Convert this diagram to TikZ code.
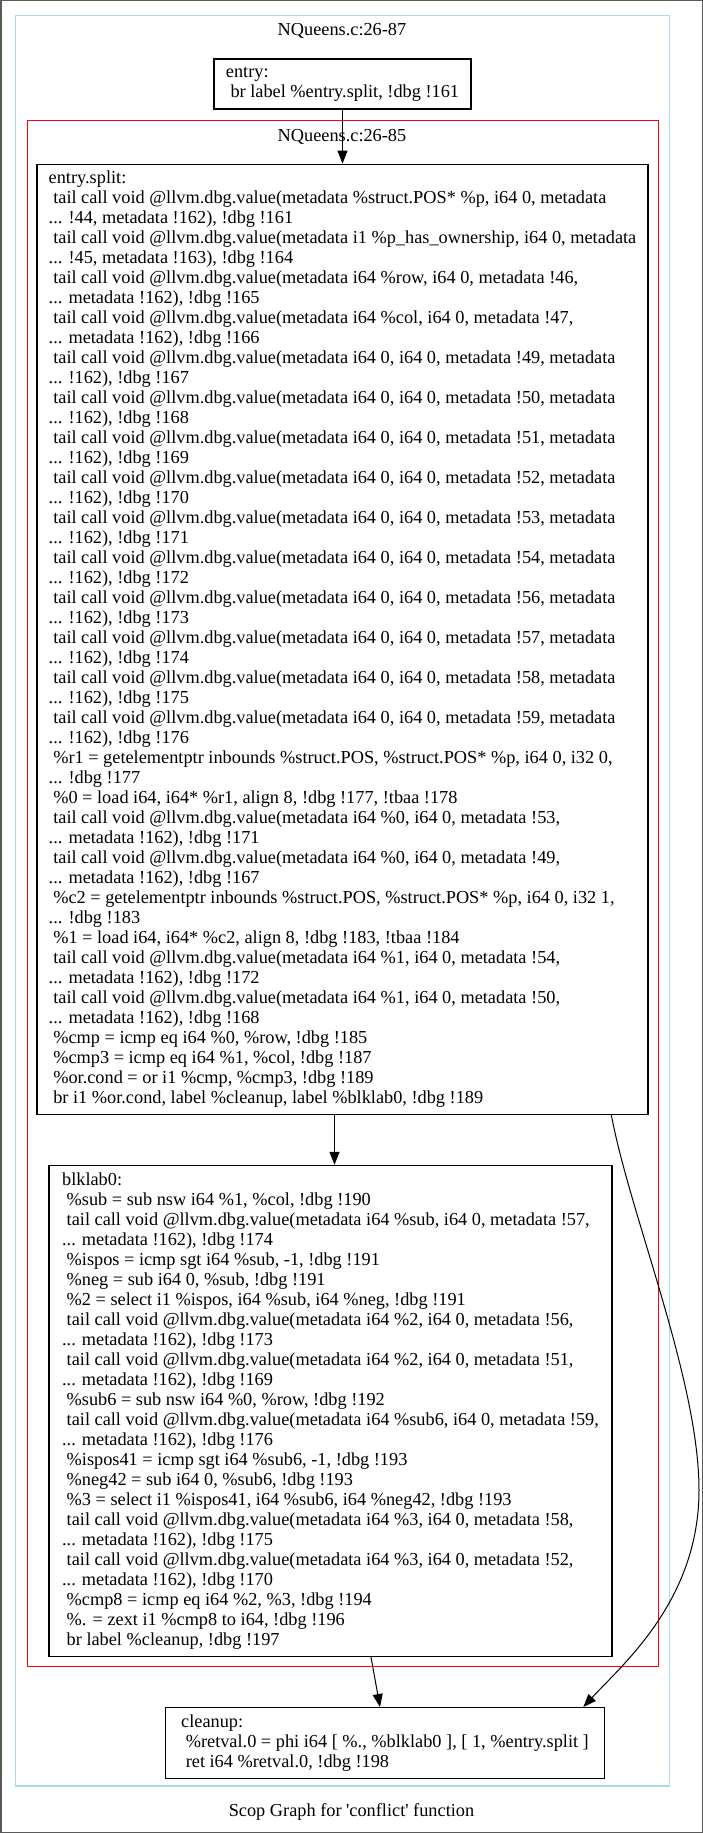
\documentclass[tikz,border=0pt]{standalone}
\usepackage{fontspec}
\setmainfont{Liberation Serif}
\usetikzlibrary{positioning,arrows.meta}
\definecolor{clusterblue}{RGB}{173,216,230}
\definecolor{framegray}{RGB}{90,90,90}
\newcommand{\lsp}{\hspace*{0.25em}}

\tikzset{
  block/.style={rectangle, draw, line width=1.2pt, align=left, inner xsep=11pt, inner ysep=5pt},
  flow/.style={-{Triangle[length=13pt,width=10pt]}, line width=1pt}
}

\begin{document}
\begin{tikzpicture}[x=1pt, y=-1pt, font=\fontsize{18.3}{20}\selectfont]
            \useasboundingbox (0,0) rectangle (703,1833);
            % page frame and clusters
            \draw[framegray, line width=1.5pt] (0.75,0.75) rectangle (702.25,1832.25);
            \draw[clusterblue, line width=1.3pt] (15.7,15.7) rectangle (669.5,1786);
            \draw[red, line width=1pt] (27,121) rectangle (658.7,1666.7);
            \node (outertitle) at (342,31) {NQueens.c:26-87};
            \node (innertitle) at (342,137) {NQueens.c:26-85};

            % entry block
            \node[block, minimum width=257pt, minimum height=50pt] (entry) at (342.5,84) {
                entry:\\
                \lsp br label \%entry.split, !dbg !161
            };

            % entry.split block
            \node[block, minimum width=611pt, minimum height=950pt, below=54pt of entry] (split) {
                entry.split:\\
                \lsp tail call void @llvm.dbg.value(metadata \%struct.POS* \%p, i64 0, metadata\\
                ... !44, metadata !162), !dbg !161\\
                \lsp tail call void @llvm.dbg.value(metadata i1 \%p\_has\_ownership, i64 0, metadata\\
                ... !45, metadata !163), !dbg !164\\
                \lsp tail call void @llvm.dbg.value(metadata i64 \%row, i64 0, metadata !46,\\
                ... metadata !162), !dbg !165\\
                \lsp tail call void @llvm.dbg.value(metadata i64 \%col, i64 0, metadata !47,\\
                ... metadata !162), !dbg !166\\
                \lsp tail call void @llvm.dbg.value(metadata i64 0, i64 0, metadata !49, metadata\\
                ... !162), !dbg !167\\
                \lsp tail call void @llvm.dbg.value(metadata i64 0, i64 0, metadata !50, metadata\\
                ... !162), !dbg !168\\
                \lsp tail call void @llvm.dbg.value(metadata i64 0, i64 0, metadata !51, metadata\\
                ... !162), !dbg !169\\
                \lsp tail call void @llvm.dbg.value(metadata i64 0, i64 0, metadata !52, metadata\\
                ... !162), !dbg !170\\
                \lsp tail call void @llvm.dbg.value(metadata i64 0, i64 0, metadata !53, metadata\\
                ... !162), !dbg !171\\
                \lsp tail call void @llvm.dbg.value(metadata i64 0, i64 0, metadata !54, metadata\\
                ... !162), !dbg !172\\
                \lsp tail call void @llvm.dbg.value(metadata i64 0, i64 0, metadata !56, metadata\\
                ... !162), !dbg !173\\
                \lsp tail call void @llvm.dbg.value(metadata i64 0, i64 0, metadata !57, metadata\\
                ... !162), !dbg !174\\
                \lsp tail call void @llvm.dbg.value(metadata i64 0, i64 0, metadata !58, metadata\\
                ... !162), !dbg !175\\
                \lsp tail call void @llvm.dbg.value(metadata i64 0, i64 0, metadata !59, metadata\\
                ... !162), !dbg !176\\
                \lsp \%r1 = getelementptr inbounds \%struct.POS, \%struct.POS* \%p, i64 0, i32 0,\\
                ... !dbg !177\\
                \lsp \%0 = load i64, i64* \%r1, align 8, !dbg !177, !tbaa !178\\
                \lsp tail call void @llvm.dbg.value(metadata i64 \%0, i64 0, metadata !53,\\
                ... metadata !162), !dbg !171\\
                \lsp tail call void @llvm.dbg.value(metadata i64 \%0, i64 0, metadata !49,\\
                ... metadata !162), !dbg !167\\
                \lsp \%c2 = getelementptr inbounds \%struct.POS, \%struct.POS* \%p, i64 0, i32 1,\\
                ... !dbg !183\\
                \lsp \%1 = load i64, i64* \%c2, align 8, !dbg !183, !tbaa !184\\
                \lsp tail call void @llvm.dbg.value(metadata i64 \%1, i64 0, metadata !54,\\
                ... metadata !162), !dbg !172\\
                \lsp tail call void @llvm.dbg.value(metadata i64 \%1, i64 0, metadata !50,\\
                ... metadata !162), !dbg !168\\
                \lsp \%cmp = icmp eq i64 \%0, \%row, !dbg !185\\
                \lsp \%cmp3 = icmp eq i64 \%1, \%col, !dbg !187\\
                \lsp \%or.cond = or i1 \%cmp, \%cmp3, !dbg !189\\
                \lsp br i1 \%or.cond, label \%cleanup, label \%blklab0, !dbg !189
            };

            % blklab0 block
            \node[block, minimum width=563pt, minimum height=491pt, below=50pt of split, xshift=-12pt] (blk) {
                blklab0:\\
                \lsp \%sub = sub nsw i64 \%1, \%col, !dbg !190\\
                \lsp tail call void @llvm.dbg.value(metadata i64 \%sub, i64 0, metadata !57,\\
                ... metadata !162), !dbg !174\\
                \lsp \%ispos = icmp sgt i64 \%sub, -1, !dbg !191\\
                \lsp \%neg = sub i64 0, \%sub, !dbg !191\\
                \lsp \%2 = select i1 \%ispos, i64 \%sub, i64 \%neg, !dbg !191\\
                \lsp tail call void @llvm.dbg.value(metadata i64 \%2, i64 0, metadata !56,\\
                ... metadata !162), !dbg !173\\
                \lsp tail call void @llvm.dbg.value(metadata i64 \%2, i64 0, metadata !51,\\
                ... metadata !162), !dbg !169\\
                \lsp \%sub6 = sub nsw i64 \%0, \%row, !dbg !192\\
                \lsp tail call void @llvm.dbg.value(metadata i64 \%sub6, i64 0, metadata !59,\\
                ... metadata !162), !dbg !176\\
                \lsp \%ispos41 = icmp sgt i64 \%sub6, -1, !dbg !193\\
                \lsp \%neg42 = sub i64 0, \%sub6, !dbg !193\\
                \lsp \%3 = select i1 \%ispos41, i64 \%sub6, i64 \%neg42, !dbg !193\\
                \lsp tail call void @llvm.dbg.value(metadata i64 \%3, i64 0, metadata !58,\\
                ... metadata !162), !dbg !175\\
                \lsp tail call void @llvm.dbg.value(metadata i64 \%3, i64 0, metadata !52,\\
                ... metadata !162), !dbg !170\\
                \lsp \%cmp8 = icmp eq i64 \%2, \%3, !dbg !194\\
                \lsp \%. = zext i1 \%cmp8 to i64, !dbg !196\\
                \lsp br label \%cleanup, !dbg !197
            };

            % cleanup block
            \node[block, minimum width=438.5pt, minimum height=71pt, below=50pt of blk, xshift=54.5pt] (cleanup) {
                cleanup:\\
                \lsp \%retval.0 = phi i64 [ \%., \%blklab0 ], [ 1, \%entry.split ]\\
                \lsp ret i64 \%retval.0, !dbg !198
            };

            \node (caption) at (351.5,1812) {Scop Graph for \textquotesingle conflict\textquotesingle{} function};

            % edges
            \coordinate (bend) at (699,1490);
            \draw[flow] (entry) -- (split);
            \draw[flow] ([xshift=-8pt]split.south) -- ([xshift=4pt]blk.north);
            \draw[flow] ([xshift=40.5pt]blk.south) -- ([xshift=-5pt]cleanup.north);
            \draw[flow] ([xshift=-37.3pt]split.south east) .. controls (630,1215) and (699,1380) .. (bend)
                .. controls (699,1600) and (623,1664) .. ([xshift=-21.5pt]cleanup.north east);
        \end{tikzpicture}
\end{document}
